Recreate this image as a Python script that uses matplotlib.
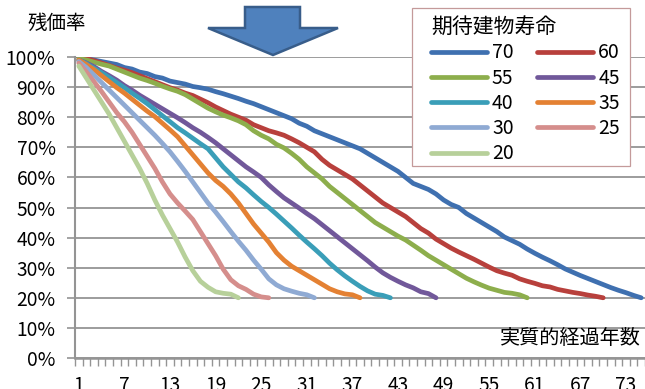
import matplotlib.pyplot as plt
from matplotlib.patches import Polygon, Rectangle
from matplotlib.lines import Line2D

plt.rcParams['font.family'] = ['Noto Sans CJK JP', 'DejaVu Sans']

# 期待建物寿命ごとの残価率 (%)、経過年数 1 年目から
life_labels = ['70', '60', '55', '45', '40', '35', '30', '25', '20']

r70 = [100, 99.5, 99, 98.5, 98, 97.5, 96.5, 96, 95, 94.5, 93.5, 93, 92, 91.5, 91,
       90.2, 89.8, 89.3, 88.5, 87.8, 87, 86.2, 85.3, 84.5, 83.5, 82.5, 81.5, 80.5,
       79.5, 78, 77, 75.5, 74.5, 73.5, 72.5, 71.5, 70.5, 69.5, 68, 66.5, 65, 63.5,
       62, 60, 58, 57, 56, 54.5, 52.5, 51, 50, 48, 46.5, 45, 43.5, 42, 40.2, 39,
       37.8, 36.2, 34.8, 33.5, 32.3, 31, 29.6, 28.5, 27.4, 26.4, 25.4, 24.4, 23.4,
       22.5, 21.7, 20.8, 20]
r60 = [100, 99.5, 98.8, 98, 97.2, 96.3, 95.6, 94.8, 93.8, 92.8, 91.8, 90.8, 89.8,
       89, 88, 87.2, 86, 84.8, 83.4, 82.2, 81, 80, 79, 77.5, 76.5, 75.5, 74.8, 74,
       72.8, 71.5, 70, 68.5, 66, 64, 62.5, 61, 59.5, 57.5, 55.5, 53.5, 51.5, 50,
       48.5, 47, 45, 43, 41.5, 39.5, 38, 36.5, 35.2, 34, 32.8, 31.5, 30.2, 29, 28.2,
       27.5, 26.3, 25.5, 24.8, 24, 23.6, 22.8, 22.3, 21.8, 21.4, 20.9, 20.5, 20]
r55 = [99.5, 99, 98.3, 97.6, 97, 96, 95, 94, 93, 92.2, 91.3, 90.3, 89.4, 88.6,
       87.5, 86, 84.5, 83, 81.8, 80.7, 79.8, 78.8, 77.5, 75.5, 74, 72.8, 71, 69.8,
       68, 66, 63.5, 61.5, 59.5, 57, 55, 53, 51, 49, 47, 45, 43.5, 42, 40.5, 39.2,
       37.5, 35.8, 34, 32.5, 31, 29.5, 28, 26.5, 25.3, 24.2, 23.2, 22.5, 21.8, 21.5,
       21, 20]
r45 = [99, 98, 96.8, 95.2, 93.8, 92.3, 90.5, 89, 87.3, 85.8, 84.3, 82.8, 81.3,
       79.8, 78.2, 76.5, 75, 73.3, 71.5, 69.5, 67.5, 65.5, 63.5, 61.8, 60, 57.5,
       55.3, 53.2, 51.5, 49.8, 48, 46.3, 44.3, 42.3, 40.3, 38.3, 36.3, 34.3, 32.3,
       30.2, 28.3, 26.8, 25.5, 24.3, 23.3, 22, 21.4, 20]
r40 = [99, 97.8, 96.3, 94.8, 93.2, 91.5, 89.8, 88, 86.3, 84.5, 82.5, 80.5, 78.5,
       76.5, 74.8, 73, 71.2, 69.5, 66.5, 63.5, 61, 58.5, 56.5, 54.2, 52, 50, 47.8,
       45.5, 43.2, 40.8, 38.5, 36.3, 34, 31.5, 29.3, 27.3, 25.5, 23.8, 22.3, 21.2,
       20.8, 20]
r35 = [99, 97.5, 95.8, 93.8, 91.8, 89.8, 88, 86, 84, 82, 80.2, 78, 75.8, 73.5,
       70.5, 67.5, 64.5, 61.5, 59, 57, 54.5, 51.5, 48, 44.5, 41.5, 38.5, 35, 32.5,
       30.5, 29, 27.5, 26, 24.5, 23, 22, 21.3, 21, 20]
r30 = [98.5, 96.5, 94, 91.5, 89, 86.5, 84, 81.5, 79, 76.5, 74, 71.3, 68.5, 65.3,
       62, 58.5, 55, 51.5, 48.5, 45.3, 42, 38.8, 35.8, 32.5, 29.5, 26.3, 24.3, 23,
       22.2, 21.5, 21, 20]
r25 = [98, 95, 91.8, 88.5, 85, 81.5, 78.5, 75, 71, 67, 63, 58.5, 54.5, 51.5, 48.8,
       46, 42, 38, 34, 29.5, 26, 24, 22.8, 21.2, 20.3, 20]
r20 = [97, 93, 89, 85, 81, 76.5, 72, 67.5, 63, 58, 52.5, 47.5, 43, 38.5, 33.5, 29,
       25.5, 23.5, 22, 21.5, 21.2, 20]

series = [r70, r60, r55, r45, r40, r35, r30, r25, r20]
colors = ['#3F70B0', '#B8403C', '#8DAE4C', '#71589A', '#3A9EB8',
          '#E48133', '#8FAAD3', '#D58E8C', '#B7D09A']

x_labels = [1, 7, 13, 19, 25, 31, 37, 43, 49, 55, 61, 67, 73]
y_ticks = [0, 10, 20, 30, 40, 50, 60, 70, 80, 90, 100]
n_years = 75

W, H = 645, 389
fig = plt.figure(figsize=(W / 100, H / 100), dpi=100)
ax = fig.add_axes([75 / W, 31 / H, 570 / W, 301 / H])

GRID = '#949494'
for vals, c in zip(series, colors):
    years = list(range(1, len(vals) + 1))
    ax.plot(years, vals, color=c, lw=3.4, solid_capstyle='round',
            solid_joinstyle='round', zorder=3)

ax.set_xlim(0.5, n_years + 0.5)
ax.set_ylim(0, 100)

# y axis
ax.set_yticks(y_ticks)
ax.set_yticklabels([f'{v}%' for v in y_ticks], fontsize=13.8)
ax.tick_params(axis='y', direction='out', length=6, width=1.2, color=GRID, pad=8)
ax.yaxis.grid(True, color=GRID, lw=1.3)
ax.set_axisbelow(True)

# x axis: labels on categories, tick marks between categories
ax.set_xticks(x_labels)
ax.set_xticklabels([str(v) for v in x_labels], fontsize=13.8)
ax.set_xticks([i + 0.5 for i in range(n_years + 1)], minor=True)
ax.tick_params(axis='x', which='major', length=0, pad=12)
ax.tick_params(axis='x', which='minor', direction='out', length=6, width=1, color=GRID)

for s in ['top', 'right']:
    ax.spines[s].set_visible(False)
ax.spines['left'].set_color(GRID)
ax.spines['left'].set_linewidth(1.5)
ax.spines['bottom'].set_color(GRID)
ax.spines['bottom'].set_linewidth(1.8)

# titles
fig.text(57 / W, 1 - 23 / H, '残価率', fontsize=14, ha='center', va='center')
fig.text(641 / W, 1 - 338 / H, '実質的経過年数', fontsize=14.5, ha='right', va='center')

# legend box
box = Rectangle((411.5 / W, 1 - 166.5 / H), 218 / W, 159 / H,
                transform=fig.transFigure, facecolor='white',
                edgecolor='#C49A9A', lw=0.9, zorder=4)
fig.patches.append(box)

# legend, row order 70/60, 55/45, ...
handles = [Line2D([], [], color=c, lw=3.4, solid_capstyle='round') for c in colors]
order = [0, 2, 4, 6, 8, 1, 3, 5, 7]
leg = fig.legend([handles[i] for i in order], [life_labels[i] for i in order],
                 title='期待建物寿命', title_fontsize=15, fontsize=14, ncol=2,
                 loc='upper left', bbox_to_anchor=(422 / W, 1 - 7.3 / H),
                 borderaxespad=0, frameon=False,
                 handlelength=2.9, handletextpad=0.25, columnspacing=1.2,
                 labelspacing=0.22, borderpad=0.45, alignment='left')
leg.set_zorder(5)

# down arrow above the plot
pts = [(245, 7), (300, 7), (300, 28), (338, 28), (273, 55), (208, 28), (245, 28)]
arrow = Polygon([(x / W, 1 - y / H) for x, y in pts], closed=True,
                transform=fig.transFigure, facecolor='#4F81BD',
                edgecolor='#385D8A', lw=1.8, zorder=6)
fig.patches.append(arrow)

fig.savefig('out.png', dpi=100)
